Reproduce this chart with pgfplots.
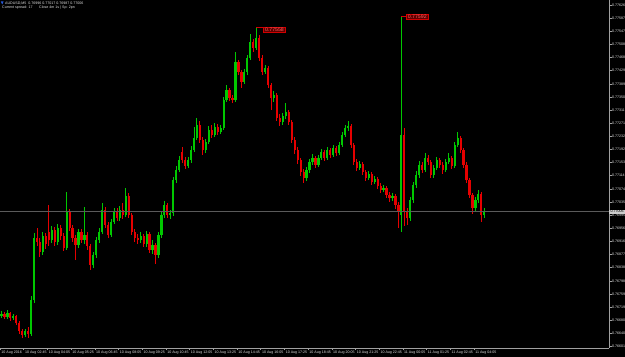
\documentclass[border=0pt]{standalone}
\usepackage{pgfplots}
\pgfplotsset{compat=1.18}
\usepackage{pgfplotstable}
\usepackage{fontspec}
\setmainfont{Liberation Sans}
\definecolor{bull}{RGB}{0,200,0}
\definecolor{bear}{RGB}{230,0,0}
\definecolor{axgray}{RGB}{160,160,160}
\definecolor{txt}{RGB}{225,225,225}
\definecolor{pline}{RGB}{90,90,90}
\definecolor{annfill}{RGB}{95,0,0}
\definecolor{anndraw}{RGB}{210,0,0}
\definecolor{anntext}{RGB}{255,95,95}
\definecolor{iconblue}{RGB}{40,90,220}
\newcommand{\mtfont}{\fontsize{3.6bp}{4.3bp}\selectfont}
\newcommand{\annfont}{\fontsize{5.2bp}{6bp}\selectfont}
\pgfplotsset{candle/.style={only marks, mark=*, mark size=0pt, mark options={draw=none, fill=none}, forget plot}}

\pgfplotstableread{
x o h l c
0 0.76693 0.76708 0.76687 0.76699
1 0.76699 0.76705 0.76684 0.76690
2 0.76690 0.76711 0.76684 0.76702
3 0.76702 0.76705 0.76678 0.76687
4 0.76687 0.76699 0.76681 0.76693
5 0.76693 0.76696 0.76666 0.76672
6 0.76672 0.76678 0.76639 0.76648
7 0.76648 0.76654 0.76627 0.76636
8 0.76636 0.76654 0.76630 0.76648
9 0.76648 0.76660 0.76627 0.76639
10 0.76639 0.76753 0.76633 0.76741
11 0.76741 0.76942 0.76732 0.76927
12 0.76927 0.76957 0.76903 0.76915
13 0.76915 0.76927 0.76870 0.76885
14 0.76885 0.76945 0.76876 0.76933
15 0.76933 0.76942 0.76894 0.76909
16 0.76945 0.77026 0.76903 0.76921
17 0.76921 0.76963 0.76912 0.76951
18 0.76951 0.76960 0.76903 0.76915
19 0.76915 0.76969 0.76906 0.76957
20 0.76957 0.76966 0.76921 0.76933
21 0.76933 0.76942 0.76888 0.76897
22 0.76897 0.77065 0.76891 0.77005
23 0.77005 0.77014 0.76948 0.76957
24 0.76957 0.76966 0.76915 0.76927
25 0.76927 0.76936 0.76861 0.76906
26 0.76906 0.76954 0.76897 0.76945
27 0.76945 0.76954 0.76912 0.76921
28 0.76921 0.77020 0.76909 0.76936
29 0.76936 0.76945 0.76891 0.76903
30 0.76903 0.76909 0.76831 0.76846
31 0.76846 0.76885 0.76837 0.76876
32 0.76876 0.76930 0.76867 0.76921
33 0.76921 0.76957 0.76912 0.76945
34 0.76945 0.77032 0.76939 0.77011
35 0.77011 0.77020 0.76957 0.76966
36 0.76966 0.76975 0.76927 0.76936
37 0.76936 0.76984 0.76930 0.76975
38 0.76975 0.77017 0.76969 0.77005
39 0.77005 0.77017 0.76978 0.76987
40 0.76987 0.77023 0.76978 0.77011
41 0.77011 0.77032 0.76984 0.76996
42 0.76996 0.77077 0.76990 0.77053
43 0.77053 0.77062 0.76987 0.76996
44 0.76996 0.77002 0.76936 0.76945
45 0.76945 0.76954 0.76915 0.76927
46 0.76927 0.76939 0.76909 0.76921
47 0.76921 0.76945 0.76912 0.76933
48 0.76933 0.76939 0.76900 0.76909
49 0.76909 0.76948 0.76900 0.76939
50 0.76939 0.76945 0.76882 0.76891
51 0.76891 0.76921 0.76879 0.76906
52 0.76906 0.76912 0.76849 0.76876
53 0.76876 0.76945 0.76867 0.76936
54 0.76936 0.77005 0.76927 0.76996
55 0.76996 0.77038 0.76987 0.77026
56 0.77026 0.77032 0.76987 0.76996
57 0.76996 0.77011 0.76984 0.77002
58 0.77002 0.77110 0.76993 0.77101
59 0.77101 0.77143 0.77092 0.77131
60 0.77131 0.77173 0.77125 0.77161
61 0.77185 0.77200 0.77152 0.77161
62 0.77161 0.77170 0.77134 0.77143
63 0.77143 0.77170 0.77137 0.77161
64 0.77161 0.77203 0.77152 0.77191
65 0.77191 0.77260 0.77185 0.77227
66 0.77227 0.77287 0.77221 0.77266
67 0.77266 0.77278 0.77212 0.77221
68 0.77221 0.77230 0.77176 0.77191
69 0.77191 0.77224 0.77182 0.77215
70 0.77215 0.77263 0.77209 0.77251
71 0.77251 0.77266 0.77227 0.77236
72 0.77236 0.77272 0.77230 0.77260
73 0.77260 0.77269 0.77236 0.77245
74 0.77245 0.77266 0.77239 0.77257
75 0.77257 0.77350 0.77251 0.77341
76 0.77341 0.77386 0.77335 0.77371
77 0.77371 0.77377 0.77338 0.77347
78 0.77347 0.77356 0.77332 0.77341
79 0.77341 0.77485 0.77335 0.77455
80 0.77455 0.77461 0.77416 0.77425
81 0.77425 0.77431 0.77377 0.77395
82 0.77395 0.77434 0.77389 0.77425
83 0.77425 0.77476 0.77416 0.77467
84 0.77467 0.77539 0.77461 0.77515
85 0.77515 0.77524 0.77485 0.77497
86 0.77497 0.77558 0.77491 0.77527
87 0.77527 0.77536 0.77458 0.77467
88 0.77467 0.77476 0.77416 0.77425
89 0.77425 0.77446 0.77419 0.77437
90 0.77437 0.77443 0.77377 0.77386
91 0.77386 0.77392 0.77311 0.77347
92 0.77347 0.77368 0.77335 0.77356
93 0.77356 0.77362 0.77278 0.77287
94 0.77287 0.77299 0.77263 0.77275
95 0.77275 0.77302 0.77266 0.77293
96 0.77293 0.77332 0.77284 0.77305
97 0.77305 0.77311 0.77266 0.77275
98 0.77275 0.77281 0.77212 0.77221
99 0.77221 0.77230 0.77179 0.77191
100 0.77191 0.77200 0.77149 0.77161
101 0.77161 0.77167 0.77113 0.77125
102 0.77125 0.77134 0.77092 0.77107
103 0.77107 0.77140 0.77098 0.77131
104 0.77131 0.77164 0.77122 0.77155
105 0.77155 0.77179 0.77146 0.77167
106 0.77167 0.77173 0.77137 0.77146
107 0.77146 0.77176 0.77140 0.77167
108 0.77167 0.77194 0.77161 0.77185
109 0.77185 0.77191 0.77158 0.77167
110 0.77167 0.77200 0.77161 0.77191
111 0.77191 0.77197 0.77167 0.77176
112 0.77176 0.77206 0.77170 0.77197
113 0.77197 0.77203 0.77173 0.77182
114 0.77182 0.77215 0.77176 0.77206
115 0.77206 0.77245 0.77200 0.77236
116 0.77236 0.77266 0.77230 0.77257
117 0.77257 0.77278 0.77248 0.77263
118 0.77263 0.77269 0.77197 0.77206
119 0.77206 0.77212 0.77146 0.77155
120 0.77155 0.77164 0.77128 0.77137
121 0.77137 0.77158 0.77131 0.77149
122 0.77149 0.77155 0.77116 0.77125
123 0.77125 0.77131 0.77098 0.77107
124 0.77107 0.77128 0.77101 0.77119
125 0.77119 0.77125 0.77086 0.77095
126 0.77095 0.77113 0.77089 0.77104
127 0.77104 0.77110 0.77074 0.77083
128 0.77083 0.77092 0.77062 0.77071
129 0.77071 0.77086 0.77065 0.77077
130 0.77077 0.77083 0.77047 0.77056
131 0.77056 0.77065 0.77035 0.77047
132 0.77047 0.77062 0.77038 0.77053
133 0.77053 0.77059 0.77014 0.77026
134 0.77026 0.77035 0.76957 0.77005
135 0.76996 0.77592 0.76945 0.77236
136 0.77236 0.77257 0.76963 0.77005
137 0.77005 0.77017 0.76966 0.76987
138 0.76987 0.77050 0.76978 0.77041
139 0.77041 0.77095 0.77032 0.77086
140 0.77086 0.77128 0.77077 0.77116
141 0.77116 0.77158 0.77107 0.77146
142 0.77146 0.77155 0.77122 0.77131
143 0.77131 0.77182 0.77125 0.77167
144 0.77167 0.77176 0.77146 0.77155
145 0.77155 0.77161 0.77107 0.77116
146 0.77116 0.77146 0.77107 0.77137
147 0.77137 0.77170 0.77131 0.77161
148 0.77161 0.77167 0.77137 0.77146
149 0.77146 0.77155 0.77119 0.77131
150 0.77131 0.77164 0.77125 0.77155
151 0.77155 0.77182 0.77149 0.77167
152 0.77167 0.77173 0.77134 0.77143
153 0.77143 0.77215 0.77137 0.77206
154 0.77206 0.77245 0.77200 0.77227
155 0.77227 0.77233 0.77182 0.77191
156 0.77191 0.77197 0.77137 0.77146
157 0.77146 0.77155 0.77092 0.77101
158 0.77101 0.77107 0.77047 0.77056
159 0.77056 0.77062 0.76999 0.77017
160 0.77017 0.77050 0.77008 0.77041
161 0.77041 0.77071 0.77032 0.77059
162 0.77059 0.77065 0.76975 0.76996
163 0.76996 0.77017 0.76987 0.77006
}\candles

\begin{document}
\begin{tikzpicture}
\fill[black] (0,-9bp) rectangle (625bp,348bp);
\useasboundingbox (0,-9bp) rectangle (625bp,348bp);
\begin{axis}[
  scale only axis, width=609bp, height=348bp,
  xmin=-0.5, xmax=205.1, ymin=0.76597, ymax=0.77641,
  axis x line*=bottom, axis y line*=right,
  axis line style={axgray, line width=0.5bp, -},
  clip mode=individual,
  xtick={-0.5,7.5,15.5,23.5,31.5,39.5,47.5,55.5,63.5,71.5,79.5,87.5,95.5,103.5,111.5,119.5,127.5,135.5,143.5,151.5,159.5},
  xticklabels={10 Aug 2016,10 Aug 02:45,10 Aug 04:05,10 Aug 05:25,10 Aug 06:45,10 Aug 08:05,10 Aug 09:25,10 Aug 10:45,10 Aug 12:05,10 Aug 13:25,10 Aug 14:45,10 Aug 16:05,10 Aug 17:25,10 Aug 18:45,10 Aug 20:05,10 Aug 21:25,10 Aug 22:45,11 Aug 00:05,11 Aug 01:25,11 Aug 02:45,11 Aug 04:05},
  ytick={0.77626,0.77587,0.77547,0.77508,0.77468,0.77429,0.77389,0.77350,0.77311,0.77271,0.77232,0.77192,0.77153,0.77114,0.77074,0.77035,0.76995,0.76956,0.76916,0.76877,0.76838,0.76798,0.76759,0.76719,0.76680,0.76640,0.76601},
  yticklabels={0.77626,0.77587,0.77547,0.77508,0.77468,0.77429,0.77389,0.77350,0.77311,0.77271,0.77232,0.77192,0.77153,0.77114,0.77074,0.77035,0.76995,0.76956,0.76916,0.76877,0.76838,0.76798,0.76759,0.76719,0.76680,0.76640,0.76601},
  tick style={axgray, line width=0.5bp},
  tick align=outside,
  major tick length=2.5bp,
  xticklabel style={anchor=west, font=\mtfont, text=txt, inner sep=0pt, xshift=1.2bp, yshift=-2bp},
  yticklabel style={anchor=west, font=\mtfont, text=txt, inner sep=0pt, xshift=0.3bp},
]
% wicks
\addplot[candle, color=bull,
  restrict expr to domain={\thisrow{c}-\thisrow{o}}{0:1},
  error bars/.cd, y dir=both, y explicit, error mark=none,
  error bar style={color=bull, line width=1bp}]
  table[x=x, y expr={(\thisrow{h}+\thisrow{l})/2}, y error expr={(\thisrow{h}-\thisrow{l})/2}] {\candles};
\addplot[candle, color=bear,
  restrict expr to domain={\thisrow{c}-\thisrow{o}}{-1:0},
  error bars/.cd, y dir=both, y explicit, error mark=none,
  error bar style={color=bear, line width=1bp}]
  table[x=x, y expr={(\thisrow{h}+\thisrow{l})/2}, y error expr={(\thisrow{h}-\thisrow{l})/2}] {\candles};
% bodies
\addplot[candle, color=bull,
  restrict expr to domain={\thisrow{c}-\thisrow{o}}{0:1},
  error bars/.cd, y dir=both, y explicit, error mark=none,
  error bar style={color=bull, line width=2.2bp}]
  table[x=x, y expr={(\thisrow{o}+\thisrow{c})/2}, y error expr={abs(\thisrow{c}-\thisrow{o})/2}] {\candles};
\addplot[candle, color=bear,
  restrict expr to domain={\thisrow{c}-\thisrow{o}}{-1:0},
  error bars/.cd, y dir=both, y explicit, error mark=none,
  error bar style={color=bear, line width=2.2bp}]
  table[x=x, y expr={(\thisrow{o}+\thisrow{c})/2}, y error expr={abs(\thisrow{c}-\thisrow{o})/2}] {\candles};
% current price line
\addplot[forget plot, pline, line width=0.5bp] coordinates {(-0.5,0.77006) (205.1,0.77006)};
% annotations
\draw[anndraw, line width=0.5bp] (axis cs:86,0.77558) -- (axis cs:88.4,0.77558);
\node[anchor=west, draw=anndraw, fill=annfill, text=anntext, font=\annfont, inner xsep=1.5bp, inner ysep=0.8bp, line width=0.5bp] at (axis cs:88.4,0.77552) {0.77558};
\draw[anndraw, line width=0.5bp] (axis cs:135,0.77592) -- (axis cs:136.6,0.77592);
\node[anchor=west, draw=anndraw, fill=annfill, text=anntext, font=\annfont, inner xsep=1.5bp, inner ysep=0.8bp, line width=0.5bp] at (axis cs:136.6,0.77590) {0.77592};
\node[anchor=west, fill=white!80!black, text=black, font=\mtfont, inner xsep=0.6bp, inner ysep=0.6bp, minimum width=16bp] at (axis cs:205.1,0.77006) {0.77006};
\end{axis}
\node[anchor=west, text=txt, font=\mtfont, inner sep=0pt] at (5bp,345bp) {AUDUSD,M5\ \ 0.76996 0.77017 0.76987 0.77006};
\fill[iconblue] (0.8bp,346.5bp) -- (3.6bp,346.5bp) -- (2.2bp,343.5bp) -- cycle;
\node[anchor=west, text=txt, font=\mtfont, inner sep=0pt] at (2bp,340.5bp) {Current spread: 17};
\node[anchor=west, text=txt, font=\mtfont, inner sep=0pt] at (39bp,340.5bp) {Close 4m 1s | Sp: 2pn};
\end{tikzpicture}
\end{document}
